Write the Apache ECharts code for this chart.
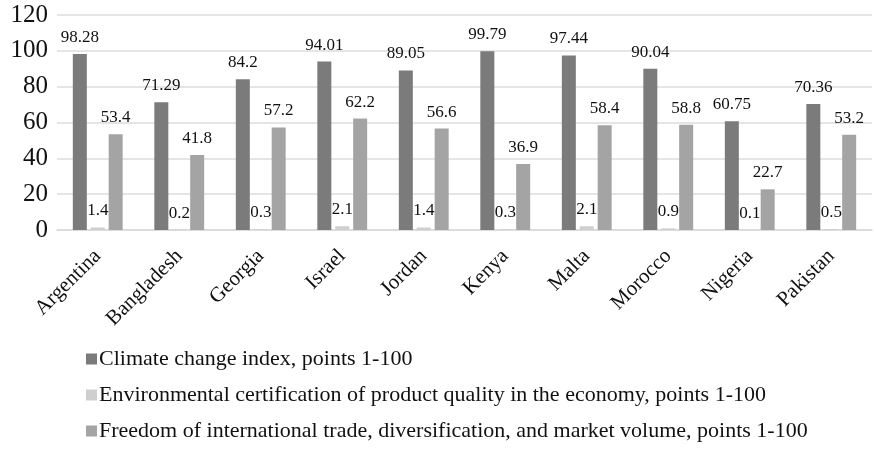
<!DOCTYPE html>
<html>
<head>
<meta charset="utf-8">
<script src="https://cdn.jsdelivr.net/npm/echarts@6/dist/echarts.min.js"></script>
<style>
  html, body { margin: 0; padding: 0; background: #fff; }
  #chart { width: 874px; height: 452px; }
</style>
</head>
<body>
<div id="chart"></div>
<script>
// Country indicators, points 1-100
const countries = ['Argentina', 'Bangladesh', 'Georgia', 'Israel', 'Jordan', 'Kenya', 'Malta', 'Morocco', 'Nigeria', 'Pakistan'];
const climateIndex = [98.28, 71.29, 84.2, 94.01, 89.05, 99.79, 97.44, 90.04, 60.75, 70.36];
const envCertification = [1.4, 0.2, 0.3, 2.1, 1.4, 0.3, 2.1, 0.9, 0.1, 0.5];
const tradeFreedom = [53.4, 41.8, 57.2, 62.2, 56.6, 36.9, 58.4, 58.8, 22.7, 53.2];
const seriesNames = [
  'Climate change index, points 1-100',
  'Environmental certification of product quality in the economy, points 1-100',
  'Freedom of international trade, diversification, and market volume, points 1-100'
];
const yTicks = { min: 0, max: 120, interval: 20 };

const font = "'Liberation Serif', 'Times New Roman', serif";
const chart = echarts.init(document.getElementById('chart'), null, { renderer: 'canvas' });

function barSeries(name, data, color) {
  return {
    name: name,
    type: 'bar',
    data: data,
    barWidth: 14,
    barGap: '28%',
    itemStyle: { color: color },
    label: {
      show: true,
      position: 'top',
      distance: 8,
      color: '#111',
      fontFamily: font,
      fontSize: 17
    },
    emphasis: { disabled: true }
  };
}

chart.setOption({
  animation: false,
  textStyle: { fontFamily: font },
  grid: { left: 57, right: 2, top: 15, bottom: 222, containLabel: false },
  xAxis: {
    type: 'category',
    data: countries,
    axisLine: { lineStyle: { color: '#d9d9d9', width: 1.5 } },
    axisTick: { show: false },
    axisLabel: {
      rotate: 45,
      margin: 23,
      color: '#111',
      fontFamily: font,
      fontSize: 21,
      interval: 0
    }
  },
  yAxis: {
    type: 'value',
    min: yTicks.min,
    max: yTicks.max,
    interval: yTicks.interval,
    axisLine: { show: false },
    axisTick: { show: false },
    splitLine: { lineStyle: { color: '#dcdcdc', width: 1.5 } },
    axisLabel: {
      margin: 9,
      color: '#111',
      fontFamily: font,
      fontSize: 25
    }
  },
  legend: {
    orient: 'vertical',
    left: 81,
    top: 343,
    itemWidth: 11,
    itemHeight: 11,
    itemGap: 14,
    icon: 'rect',
    textStyle: { color: '#111', fontFamily: font, fontSize: 22, padding: [0, 0, 0, -3] },
    data: seriesNames
  },
  series: [
    barSeries(seriesNames[0], climateIndex, '#7b7b7b'),
    barSeries(seriesNames[1], envCertification, '#cfcfcf'),
    barSeries(seriesNames[2], tradeFreedom, '#a4a4a4')
  ]
});
</script>
</body>
</html>
